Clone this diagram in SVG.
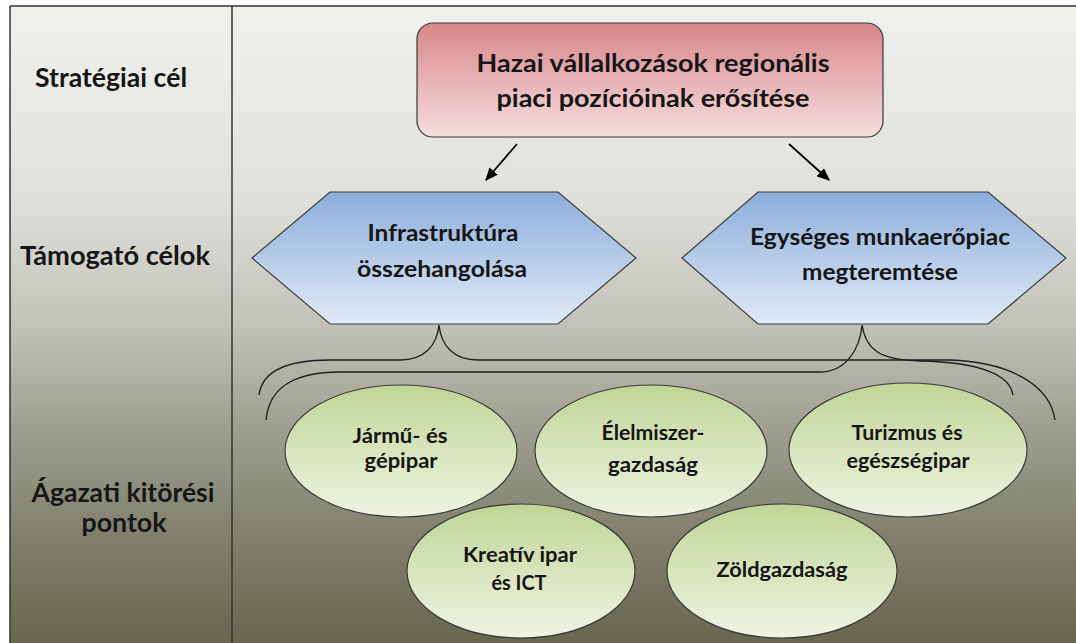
<svg xmlns="http://www.w3.org/2000/svg" width="1076" height="643" viewBox="0 0 1076 643">
<defs>
<linearGradient id="bg" x1="0" y1="0" x2="0" y2="643" gradientUnits="userSpaceOnUse">
<stop offset="0" stop-color="#f1f1ed"/>
<stop offset="0.3" stop-color="#e1e1dc"/>
<stop offset="0.5" stop-color="#c3c3ba"/>
<stop offset="0.65" stop-color="#a2a294"/>
<stop offset="0.85" stop-color="#7d7d69"/>
<stop offset="1" stop-color="#68684f"/>
</linearGradient>
<linearGradient id="red" x1="0" y1="0" x2="0" y2="1">
<stop offset="0" stop-color="#d8868a"/>
<stop offset="1" stop-color="#f6dede"/>
</linearGradient>
<linearGradient id="blue" x1="0" y1="0" x2="0" y2="1">
<stop offset="0" stop-color="#8caedb"/>
<stop offset="1" stop-color="#e0eaf6"/>
</linearGradient>
<linearGradient id="green" x1="0" y1="0" x2="0" y2="1">
<stop offset="0" stop-color="#c0d596"/>
<stop offset="1" stop-color="#eff4e3"/>
</linearGradient>
<marker id="ah" viewBox="0 0 10 10" refX="9" refY="5" markerWidth="13" markerHeight="11" orient="auto" markerUnits="userSpaceOnUse" preserveAspectRatio="none">
<path d="M0,0 L10,5 L0,10 z" fill="#000"/>
</marker>
</defs>
<style>
text{font-family:Lato,"Open Sans","Liberation Sans",sans-serif;font-weight:bold;fill:#161616;text-anchor:middle}
.lab{font-size:26px}
.title{font-size:24px}
.hex{font-size:22px}
.ell{font-size:21px}
.shape{stroke:#3a3a3a;stroke-width:1.2}
.brace{fill:none;stroke:#1e1e1e;stroke-width:1.3}
.arrow{stroke:#000;stroke-width:1.7;marker-end:url(#ah)}
</style>
<rect x="0" y="0" width="1076" height="643" fill="#ffffff"/>
<rect x="10" y="6" width="1066" height="637" fill="url(#bg)"/>
<g id="frame" fill="none" stroke="#333" stroke-width="1.5">
<line x1="10" y1="6" x2="1076" y2="6"/>
<line x1="10" y1="6" x2="10" y2="643"/>
<line x1="232" y1="6" x2="232" y2="643"/>
</g>
<g id="labels">
<text class="lab" x="111" y="87" textLength="152" lengthAdjust="spacingAndGlyphs">Stratégiai cél</text>
<text class="lab" x="115" y="265" textLength="190" lengthAdjust="spacingAndGlyphs">Támogató célok</text>
<text class="lab" x="123" y="502" textLength="183" lengthAdjust="spacingAndGlyphs">Ágazati kitörési</text>
<text class="lab" x="124" y="532" textLength="85" lengthAdjust="spacingAndGlyphs">pontok</text>
</g>
<g id="connectors">
<line class="arrow" x1="517" y1="144" x2="486" y2="180"/>
<line class="arrow" x1="789" y1="144" x2="829" y2="180"/>
<path class="brace" d="M259,395 C262,372 285,360 330,360 L400,360 C425,360 437,345 439,325 C441,345 453,360 478,360 L950,360 C1010,362 1050,385 1055,420"/>
<path class="brace" d="M266,420 C269,390 290,372 340,372 L820,372 C845,372 860,350 862,325 C866,350 880,360 920,361 C980,362 1010,375 1013,395"/>
</g>
<g id="goal">
<rect class="shape" x="417" y="23" width="466" height="114" rx="16" fill="url(#red)"/>
<text class="title" x="653" y="72" textLength="353" lengthAdjust="spacingAndGlyphs">Hazai vállalkozások regionális</text>
<text class="title" x="653" y="107" textLength="313" lengthAdjust="spacingAndGlyphs">piaci pozícióinak erősítése</text>
</g>
<g id="infra">
<polygon class="shape" points="330,192 558,192 636,258 558,324 330,324 252,258" fill="url(#blue)"/>
<text class="hex" x="443" y="241" textLength="151" lengthAdjust="spacingAndGlyphs">Infrastruktúra</text>
<text class="hex" x="442" y="277" textLength="170" lengthAdjust="spacingAndGlyphs">összehangolása</text>
</g>
<g id="munka">
<polygon class="shape" points="758,192 988,192 1066,258 988,324 758,324 682,258" fill="url(#blue)"/>
<text class="hex" x="880" y="245" textLength="260" lengthAdjust="spacingAndGlyphs">Egységes munkaerőpiac</text>
<text class="hex" x="880" y="280" textLength="156" lengthAdjust="spacingAndGlyphs">megteremtése</text>
</g>
<g id="jarmu">
<ellipse class="shape" cx="401" cy="451" rx="116" ry="66" fill="url(#green)"/>
<text class="ell" x="400" y="443" textLength="95" lengthAdjust="spacingAndGlyphs">Jármű- és</text>
<text class="ell" x="401" y="468" textLength="73" lengthAdjust="spacingAndGlyphs">gépipar</text>
</g>
<g id="elelmiszer">
<ellipse class="shape" cx="651" cy="451" rx="116" ry="66" fill="url(#green)"/>
<text class="ell" x="653" y="440" textLength="103" lengthAdjust="spacingAndGlyphs">Élelmiszer-</text>
<text class="ell" x="653" y="472" textLength="90" lengthAdjust="spacingAndGlyphs">gazdaság</text>
</g>
<g id="turizmus">
<ellipse class="shape" cx="908" cy="450" rx="119" ry="67" fill="url(#green)"/>
<text class="ell" x="907" y="440" textLength="111" lengthAdjust="spacingAndGlyphs">Turizmus és</text>
<text class="ell" x="908" y="468" textLength="123" lengthAdjust="spacingAndGlyphs">egészségipar</text>
</g>
<g id="kreativ">
<ellipse class="shape" cx="521" cy="571" rx="114" ry="67" fill="url(#green)"/>
<text class="ell" x="520" y="562" textLength="114" lengthAdjust="spacingAndGlyphs">Kreatív ipar</text>
<text class="ell" x="519" y="590" textLength="55" lengthAdjust="spacingAndGlyphs">és ICT</text>
</g>
<g id="zold">
<ellipse class="shape" cx="782" cy="571" rx="115" ry="67" fill="url(#green)"/>
<text class="ell" x="782" y="577" textLength="131" lengthAdjust="spacingAndGlyphs">Zöldgazdaság</text>
</g>
</svg>
